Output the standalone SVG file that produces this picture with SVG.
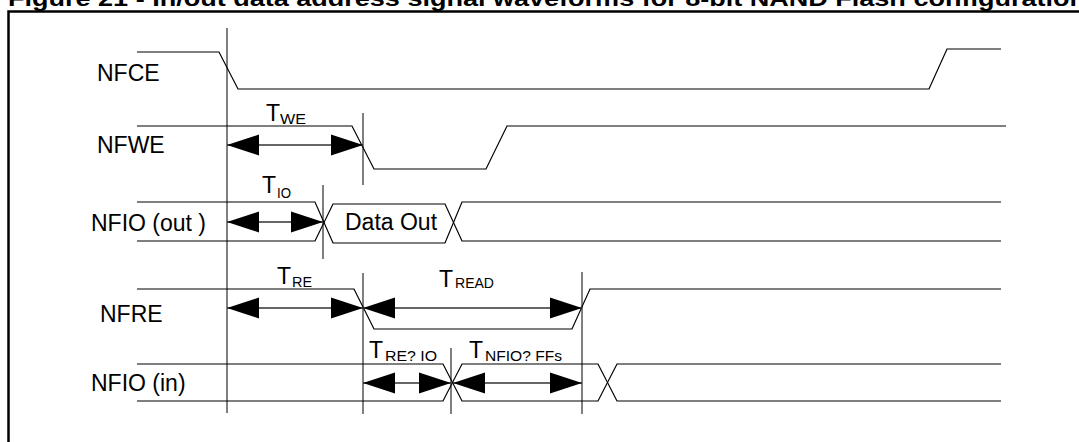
<svg xmlns="http://www.w3.org/2000/svg" width="1079" height="442" viewBox="0 0 1079 442">
<style>
.t{font-family:"Liberation Sans",Arial,sans-serif;fill:#000}
.lbl{font-size:23px}
.big{font-size:23px}
.sub{font-size:15px}
.ttl{font-size:22.6px;font-weight:bold}
.w{fill:none;stroke:#000;stroke-width:1.2}
.v{fill:none;stroke:#000;stroke-width:1}
.a{fill:none;stroke:#333;stroke-width:1.4;marker-start:url(#ah);marker-end:url(#ah)}
</style>
<defs>
<marker id="ah" markerUnits="userSpaceOnUse" markerWidth="33" markerHeight="22" refX="32" refY="11" orient="auto-start-reverse">
<path d="M0,0.5 L32,11 L0,21.5 z" fill="#000"/>
</marker>
</defs>
<rect width="1079" height="442" fill="#fff"/>
<text class="t ttl" x="8" y="6" textLength="1078" lengthAdjust="spacingAndGlyphs">Figure 21 - In/out data address signal waveforms for 8-bit NAND Flash configuration</text>
<path d="M8.5,460 V11.5 H1090" fill="none" stroke="#000" stroke-width="2.5"/>
<g id="nfce">
<text class="t lbl" x="97" y="81">NFCE</text>
<polyline class="w" points="137,52 219,52 238,89 929,89 947,49 1001,49"/>
</g>
<g id="nfwe">
<text class="t lbl" x="97" y="153">NFWE</text>
<polyline class="w" points="137,126 352,126 374,169 486,169 507,126 1006,126"/>
</g>
<g id="nfio-out">
<text class="t lbl" x="91" y="231">NFIO (out )</text>
<polyline class="w" points="137,202 315,202 333,243 445,243 462,202 1001,202"/>
<polyline class="w" points="137,241 315,241 333,204 445,204 462,241 1001,241"/>
<text class="t lbl" x="345" y="230">Data Out</text>
</g>
<g id="nfre">
<text class="t lbl" x="100" y="322">NFRE</text>
<polyline class="w" points="137,289 354,289 374,329 572,329 590,289 1001,289"/>
</g>
<g id="nfio-in">
<text class="t lbl" x="91" y="391">NFIO (in)</text>
<polyline class="w" points="137,364 443,364 462,401 598,401 617,364 1001,364"/>
<polyline class="w" points="137,401 443,401 462,364 598,364 617,401 1001,401"/>
</g>
<g id="timing-lines">
<line class="v" x1="227" y1="28" x2="227" y2="413"/>
<line class="v" x1="363" y1="113" x2="363" y2="185"/>
<line class="v" x1="323" y1="185" x2="323" y2="259"/>
<line class="v" x1="363" y1="273" x2="363" y2="414"/>
<line class="v" x1="582" y1="272" x2="582" y2="414"/>
<line class="v" x1="451" y1="348" x2="451" y2="414"/>
</g>
<g id="connectors">
<line class="a" x1="227" y1="145" x2="363" y2="145"/>
<line class="a" x1="227" y1="222" x2="323" y2="222"/>
<line class="a" x1="227" y1="308" x2="363" y2="308"/>
<line class="a" x1="363" y1="308" x2="582" y2="308"/>
<line class="a" x1="363" y1="383" x2="451" y2="383"/>
<line class="a" x1="453" y1="383" x2="582" y2="383"/>
</g>
<g id="labels">
<text class="t big" x="266" y="121">T</text><text class="t sub" x="280" y="124" textLength="26" lengthAdjust="spacingAndGlyphs">WE</text>
<text class="t big" x="262" y="193">T</text><text class="t sub" x="277" y="198" textLength="14" lengthAdjust="spacingAndGlyphs">IO</text>
<text class="t big" x="277" y="284">T</text><text class="t sub" x="292" y="287" textLength="20" lengthAdjust="spacingAndGlyphs">RE</text>
<text class="t big" x="439" y="287">T</text><text class="t sub" x="455" y="288" textLength="39" lengthAdjust="spacingAndGlyphs">READ</text>
<text class="t big" x="369" y="358">T</text><text class="t sub" x="385" y="361" textLength="52" lengthAdjust="spacingAndGlyphs">RE? IO</text>
<text class="t big" x="469" y="358">T</text><text class="t sub" x="485" y="361" textLength="77" lengthAdjust="spacingAndGlyphs">NFIO? FFs</text>
</g>
</svg>
